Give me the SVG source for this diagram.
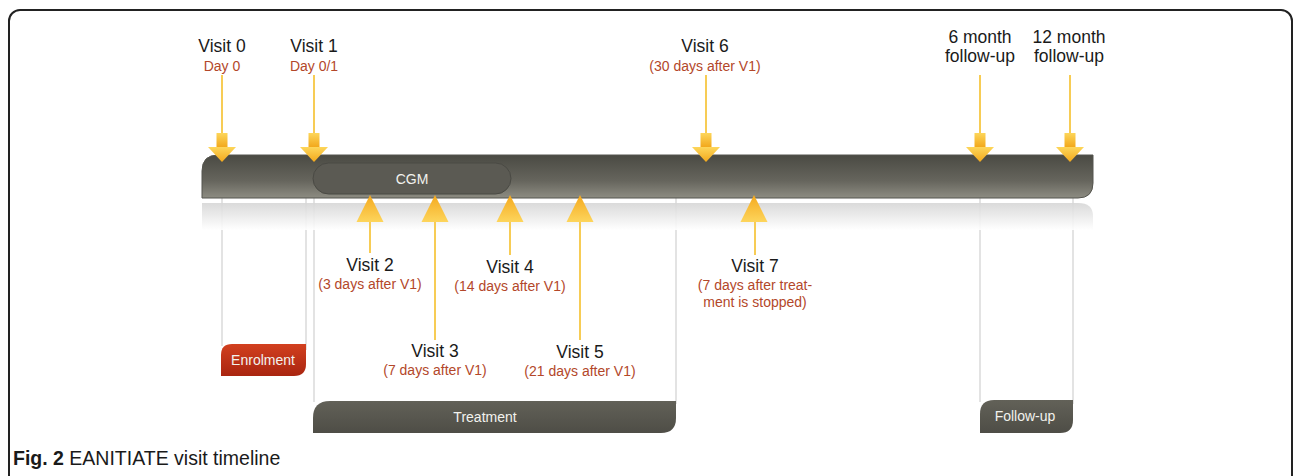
<svg xmlns="http://www.w3.org/2000/svg" width="1293" height="476" viewBox="0 0 1293 476">
<defs>
<linearGradient id="barG" x1="0" y1="0" x2="0" y2="1">
<stop offset="0" stop-color="#4a4a43"/>
<stop offset="0.6" stop-color="#66655d"/>
<stop offset="1" stop-color="#8d8c82"/>
</linearGradient>
<linearGradient id="reflG" x1="0" y1="0" x2="0" y2="1">
<stop offset="0" stop-color="#d6d6d6"/>
<stop offset="1" stop-color="#ffffff"/>
</linearGradient>
<linearGradient id="arrG" x1="0" y1="0" x2="0" y2="1">
<stop offset="0" stop-color="#fdd65a"/>
<stop offset="1" stop-color="#f2a81c"/>
</linearGradient>
<linearGradient id="upG" x1="0" y1="0" x2="0" y2="1">
<stop offset="0" stop-color="#f4a91e"/>
<stop offset="1" stop-color="#fdd55c"/>
</linearGradient>
<linearGradient id="redG" x1="0" y1="0" x2="0" y2="1">
<stop offset="0" stop-color="#d2401f"/>
<stop offset="1" stop-color="#a92510"/>
</linearGradient>
<linearGradient id="tabG" x1="0" y1="0" x2="0" y2="1">
<stop offset="0" stop-color="#626158"/>
<stop offset="1" stop-color="#4e4d46"/>
</linearGradient>
<g id="down">
<line x1="0" y1="-87" x2="0" y2="-28" stroke="#f7cc55" stroke-width="2"/>
<rect x="-5.5" y="-29" width="11" height="14" fill="url(#arrG)"/>
<polygon points="-14,-15 14,-15 0,0" fill="url(#arrG)"/>
</g>
<polygon id="up" points="0,0 13.5,27 -13.5,27" fill="url(#upG)"/>
</defs>
<style>
.vl{font-family:"Liberation Sans",Arial,sans-serif;font-size:17.5px;fill:#1a1a1a;text-anchor:middle}
.sub{font-family:"Liberation Sans",Arial,sans-serif;font-size:14px;fill:#b3472a;text-anchor:middle}
.wt{font-family:"Liberation Sans",Arial,sans-serif;font-size:14px;fill:#f2f2ee;text-anchor:middle}
.gl{stroke:#d0d0d0;stroke-width:1.2}
.stem{stroke:#f7cc55;stroke-width:2}
</style>
<rect x="9" y="10" width="1283" height="480" rx="11" fill="#fff" stroke="#222" stroke-width="2"/>

<g id="guides">
<line class="gl" x1="222" y1="198" x2="222" y2="346"/>
<line class="gl" x1="306" y1="198" x2="306" y2="350"/>
<line class="gl" x1="314" y1="198" x2="314" y2="402"/>
<line class="gl" x1="676" y1="198" x2="676" y2="404"/>
<line class="gl" x1="980" y1="198" x2="980" y2="402"/>
<line class="gl" x1="1073" y1="198" x2="1073" y2="404"/>
</g>

<g id="reflection">
<path d="M202 203 H1078 Q1093 203 1093 216 V230 H202 Z" fill="url(#reflG)" opacity="0.9"/>
</g>

<g id="timeline">
<path d="M218 155 H1093 V183 Q1093 198 1078 198 H202 V171 Q202 155 218 155 Z" fill="url(#barG)" stroke="#55554e" stroke-width="1"/>
</g>

<g id="cgm">
<rect x="313" y="163" width="198" height="31" rx="15.5" fill="#5b5a53" stroke="#4a4a44" stroke-width="1"/>
<text class="wt" x="412" y="184">CGM</text>
</g>

<g id="connectors">
<use href="#down" x="222" y="162"/>
<use href="#down" x="314" y="162"/>
<use href="#down" x="706" y="162"/>
<use href="#down" x="980" y="162"/>
<use href="#down" x="1070" y="162"/>
<line class="stem" x1="370" y1="220" x2="370" y2="253"/>
<line class="stem" x1="435" y1="220" x2="435" y2="340"/>
<line class="stem" x1="510" y1="220" x2="510" y2="255"/>
<line class="stem" x1="580" y1="220" x2="580" y2="340"/>
<line class="stem" x1="755" y1="220" x2="755" y2="255"/>
<use href="#up" x="370" y="195"/>
<use href="#up" x="435" y="195"/>
<use href="#up" x="510" y="195"/>
<use href="#up" x="580" y="195"/>
<use href="#up" x="754" y="195"/>
</g>

<g id="visit0"><text class="vl" x="222" y="52">Visit 0</text><text class="sub" x="222" y="71">Day 0</text></g>
<g id="visit1"><text class="vl" x="314" y="52">Visit 1</text><text class="sub" x="314" y="71">Day 0/1</text></g>
<g id="visit6"><text class="vl" x="705" y="52">Visit 6</text><text class="sub" x="705" y="71">(30 days after V1)</text></g>
<g id="fu6"><text class="vl" x="980" y="43">6 month</text><text class="vl" x="980" y="62">follow-up</text></g>
<g id="fu12"><text class="vl" x="1069" y="43">12 month</text><text class="vl" x="1069" y="62">follow-up</text></g>
<g id="visit2"><text class="vl" x="370" y="271">Visit 2</text><text class="sub" x="370" y="289">(3 days after V1)</text></g>
<g id="visit4"><text class="vl" x="510" y="273">Visit 4</text><text class="sub" x="510" y="291">(14 days after V1)</text></g>
<g id="visit3"><text class="vl" x="435" y="357">Visit 3</text><text class="sub" x="435" y="375">(7 days after V1)</text></g>
<g id="visit5"><text class="vl" x="580" y="358">Visit 5</text><text class="sub" x="580" y="376">(21 days after V1)</text></g>
<g id="visit7"><text class="vl" x="755" y="272">Visit 7</text><text class="sub" x="755" y="290">(7 days after treat-</text><text class="sub" x="755" y="307">ment is stopped)</text></g>

<g id="enrolment">
<path d="M232 344 H306 V364 Q306 376 294 376 H221 V355 Q221 344 232 344 Z" fill="url(#redG)"/>
<text class="wt" x="263" y="365">Enrolment</text>
</g>
<g id="treatment">
<path d="M330 401 H676 V418 Q676 433 661 433 H313 V418 Q313 401 330 401 Z" fill="url(#tabG)"/>
<text class="wt" x="485" y="422">Treatment</text>
</g>
<g id="followup">
<path d="M994 400 H1073 V420 Q1073 433 1060 433 H980 V414 Q980 400 994 400 Z" fill="url(#tabG)"/>
<text class="wt" x="1025" y="421">Follow-up</text>
</g>

<g id="caption">
<text x="13" y="465" font-family="'Liberation Sans',Arial,sans-serif" font-size="19.5" fill="#1a1a1a"><tspan font-weight="bold">Fig. 2</tspan> EANITIATE visit timeline</text>
</g>
</svg>
